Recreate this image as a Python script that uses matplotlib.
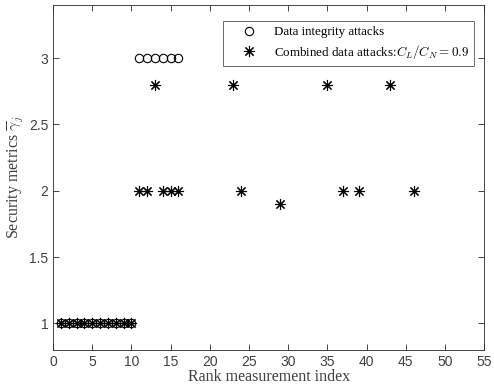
import numpy as np
import matplotlib
matplotlib.use("Agg")
import matplotlib.pyplot as plt

# Data
integrity_x = list(range(1, 17))
integrity_y = [1] * 10 + [3] * 6

combined_x = list(range(1, 13)) + [13, 14, 15, 16, 23, 24, 29, 35, 37, 39, 43, 46]
combined_y = [1] * 10 + [2, 2] + [2.8, 2, 2, 2, 2.8, 2, 1.9, 2.8, 2, 2, 2.8, 2]

xticks = list(range(0, 60, 5))
yticks = [1, 1.5, 2, 2.5, 3]

axis_color = "#262626"
plt.rcParams["mathtext.fontset"] = "cm"

fig = plt.figure(figsize=(4.94, 3.87), dpi=100)
ax = fig.add_axes([0.1073, 0.0956, 0.8727, 0.8914])

ax.plot(integrity_x, integrity_y, linestyle="none", marker="o", markersize=6,
        markerfacecolor="none", markeredgecolor="black", markeredgewidth=0.8,
        label="Data integrity attacks")
ax.plot(combined_x, combined_y, linestyle="none", marker=(8, 2, 0), markersize=8,
        color="black", markeredgewidth=0.8,
        label=r"Combined data attacks:$C_L/C_N=0.9$")

ax.set_xlim(0, 55)
ax.set_ylim(0.8, 3.4)
ax.set_xticks(xticks)
ax.set_yticks(yticks)
ax.set_yticklabels(["1", "1.5", "2", "2.5", "3"])

ax.tick_params(direction="in", top=True, right=True, length=4, width=0.6,
               colors=axis_color, labelsize=10)
ax.tick_params(labelcolor="#404040")
for lab in ax.get_xticklabels() + ax.get_yticklabels():
    lab.set_family("Liberation Sans")
for s in ax.spines.values():
    s.set_color(axis_color)
    s.set_linewidth(0.6)

ax.set_xlabel("Rank measurement index", family="Liberation Serif", fontsize=11.5,
              color="#404040", labelpad=0)
ax.set_ylabel(r"Security metrics $\overline{\gamma}_j$", family="Liberation Serif",
              fontsize=11.5, color="#404040", labelpad=2)

leg = ax.legend(loc="upper right", bbox_to_anchor=(0.977, 0.9545), borderaxespad=0,
                fancybox=False, edgecolor=axis_color,
                prop={"family": "Liberation Serif", "size": 9.4},
                handlelength=3.2, handletextpad=0.3, labelspacing=0.35,
                borderpad=0.4)
leg.get_frame().set_linewidth(0.6)

fig.savefig("out.png", dpi=100)
